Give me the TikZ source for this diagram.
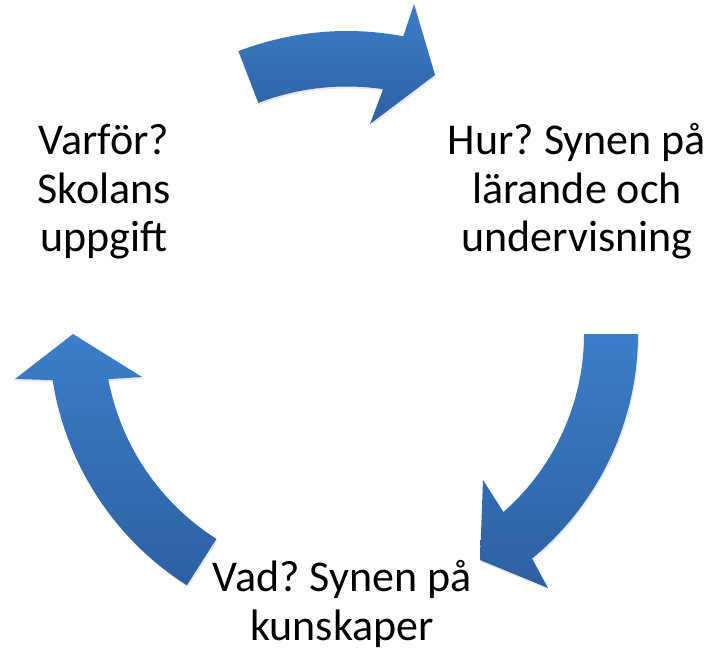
\documentclass[tikz,border=0pt]{standalone}
\usepackage{fontspec}
\setmainfont{Carlito}
\frenchspacing
\usetikzlibrary{calc,shadows}

\definecolor{arrowtop}{RGB}{60,126,202}
\definecolor{arrowbot}{RGB}{45,96,161}

\tikzset{
  cyclearrow/.style={top color=arrowtop, bottom color=arrowbot, draw=none,
    drop shadow={opacity=0.18, shadow xshift=1pt, shadow yshift=-2pt}},
  cycletext/.style={anchor=base, align=center, font=\fontsize{44}{48.6}\selectfont}
}

\begin{document}
\begin{tikzpicture}[x=1pt,y=-1pt]
	\useasboundingbox (0,0) rectangle (717,652);
	\coordinate (c) at (347,334);
	
	% top arrow
	\path[cyclearrow] ($(c)+(-111:303)$) arc[start angle=-111, end angle=-79.3, radius=303]
		-- (414,4) -- (435,75) -- (370,124)
		-- ($(c)+(-81.6:247.5)$) arc[start angle=-81.6, end angle=-111, radius=247.5] -- cycle;
	
	% right arrow
	\path[cyclearrow] ($(c)+(0:291)$) arc[start angle=0, end angle=50.5, radius=291]
		-- (548,588) -- (480,560) -- (483,480)
		-- ($(c)+(48.7:237)$) arc[start angle=48.7, end angle=0, radius=237] -- cycle;
	
	% left arrow
	\path[cyclearrow] ($(c)+(122.5:298)$) arc[start angle=122.5, end angle=171.1, radius=298]
		-- (15,379) -- (73,334) -- (142,377)
		-- ($(c)+(169.3:243)$) arc[start angle=169.3, end angle=122.5, radius=243] -- cycle;
	
	% base anchor sits on the last line
	\node[cycletext] (varfor) at (104,251.7) {Varför?\\Skolans\\uppgift};
	\node[cycletext] (hur) at (577,251.7) {Hur? Synen på\\lärande och\\undervisning};
	\node[cycletext] (vad) at (342,640) {Vad? Synen på\\kunskaper};
\end{tikzpicture}
\end{document}
